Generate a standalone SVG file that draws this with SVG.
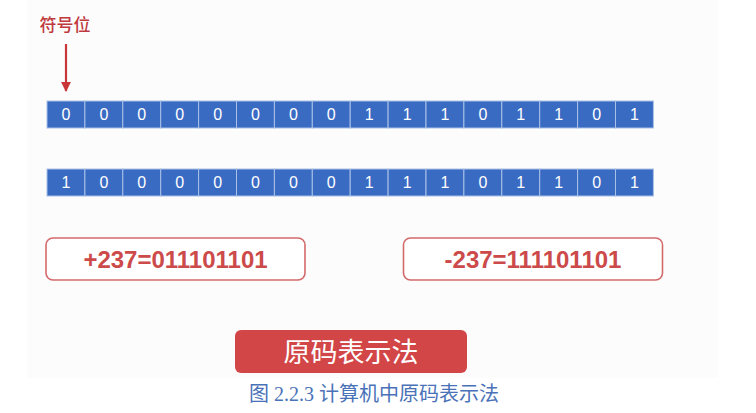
<svg xmlns="http://www.w3.org/2000/svg" width="756" height="413" viewBox="0 0 756 413">
<style>
.cell{fill:#3a6bc3;stroke:#a9c0e6;stroke-width:1}
.bit{font-family:"Liberation Sans",Arial,sans-serif;font-size:16px;fill:#ffffff;text-anchor:middle}
.box{fill:#ffffff;stroke:#d36a6a;stroke-width:1.6}
.eq{font-family:"Liberation Sans",Arial,sans-serif;font-weight:bold;font-size:24px;fill:#cc4a4a;text-anchor:middle}
</style>
<defs>
<marker id="ah" viewBox="0 0 10 10" refX="9" refY="5" markerWidth="4.5" markerHeight="4.5" orient="auto"><path d="M0,0 L10,5 L0,10 z" fill="#c9363a"/></marker>
<g id="row-cells">
<rect class="cell" x="47" y="0" width="37.9" height="27"/><rect class="cell" x="84.9" y="0" width="37.9" height="27"/><rect class="cell" x="122.8" y="0" width="37.9" height="27"/><rect class="cell" x="160.7" y="0" width="37.9" height="27"/><rect class="cell" x="198.6" y="0" width="37.9" height="27"/><rect class="cell" x="236.5" y="0" width="37.9" height="27"/><rect class="cell" x="274.4" y="0" width="37.9" height="27"/><rect class="cell" x="312.3" y="0" width="37.9" height="27"/><rect class="cell" x="350.2" y="0" width="37.9" height="27"/><rect class="cell" x="388.1" y="0" width="37.9" height="27"/><rect class="cell" x="426" y="0" width="37.9" height="27"/><rect class="cell" x="463.9" y="0" width="37.9" height="27"/><rect class="cell" x="501.8" y="0" width="37.9" height="27"/><rect class="cell" x="539.7" y="0" width="37.9" height="27"/><rect class="cell" x="577.6" y="0" width="37.9" height="27"/><rect class="cell" x="615.5" y="0" width="37.9" height="27"/>
</g>
</defs>
<rect x="0" y="0" width="756" height="413" fill="#ffffff"/>
<rect x="27" y="0" width="691" height="378" fill="#fcfcfd"/>

<g id="sign-label">
<text x="65" y="31" font-family="'Noto Sans CJK SC',sans-serif" font-size="17" font-weight="500" fill="#c0393d" text-anchor="middle">符号位</text>
</g>

<g id="row1">
<use href="#row-cells" y="101"/>
<g class="bit">
<text x="66" y="120">0</text><text x="103.9" y="120">0</text><text x="141.8" y="120">0</text><text x="179.7" y="120">0</text><text x="217.6" y="120">0</text><text x="255.5" y="120">0</text><text x="293.4" y="120">0</text><text x="331.3" y="120">0</text><text x="369.2" y="120">1</text><text x="407.1" y="120">1</text><text x="445" y="120">1</text><text x="482.9" y="120">0</text><text x="520.8" y="120">1</text><text x="558.7" y="120">1</text><text x="596.6" y="120">0</text><text x="634.5" y="120">1</text>
</g>
</g>

<g id="row2">
<use href="#row-cells" y="169"/>
<g class="bit">
<text x="66" y="188">1</text><text x="103.9" y="188">0</text><text x="141.8" y="188">0</text><text x="179.7" y="188">0</text><text x="217.6" y="188">0</text><text x="255.5" y="188">0</text><text x="293.4" y="188">0</text><text x="331.3" y="188">0</text><text x="369.2" y="188">1</text><text x="407.1" y="188">1</text><text x="445" y="188">1</text><text x="482.9" y="188">0</text><text x="520.8" y="188">1</text><text x="558.7" y="188">1</text><text x="596.6" y="188">0</text><text x="634.5" y="188">1</text>
</g>
</g>

<g id="pos-box">
<rect class="box" x="46" y="238" width="259" height="42" rx="7"/>
<text class="eq" x="175.5" y="267.5">+237=011101101</text>
</g>

<g id="neg-box">
<rect class="box" x="403.5" y="238" width="259" height="42" rx="7"/>
<text class="eq" x="533" y="267.5">-237=111101101</text>
</g>

<g id="title-button">
<rect x="235" y="330" width="232" height="43" rx="6" fill="#d24647"/>
<text x="351" y="362" font-family="'Noto Sans CJK SC',sans-serif" font-size="27" fill="#ffffff" text-anchor="middle">原码表示法</text>
</g>

<g id="connectors">
<line x1="66" y1="44" x2="66" y2="91" stroke="#c9363a" stroke-width="2.2" marker-end="url(#ah)"/>
</g>

<g id="caption">
<text x="374" y="401" font-family="'Liberation Serif','Noto Sans CJK SC',serif" font-size="20" fill="#4a72b8" text-anchor="middle">图 2.2.3 计算机中原码表示法</text>
</g>
</svg>
